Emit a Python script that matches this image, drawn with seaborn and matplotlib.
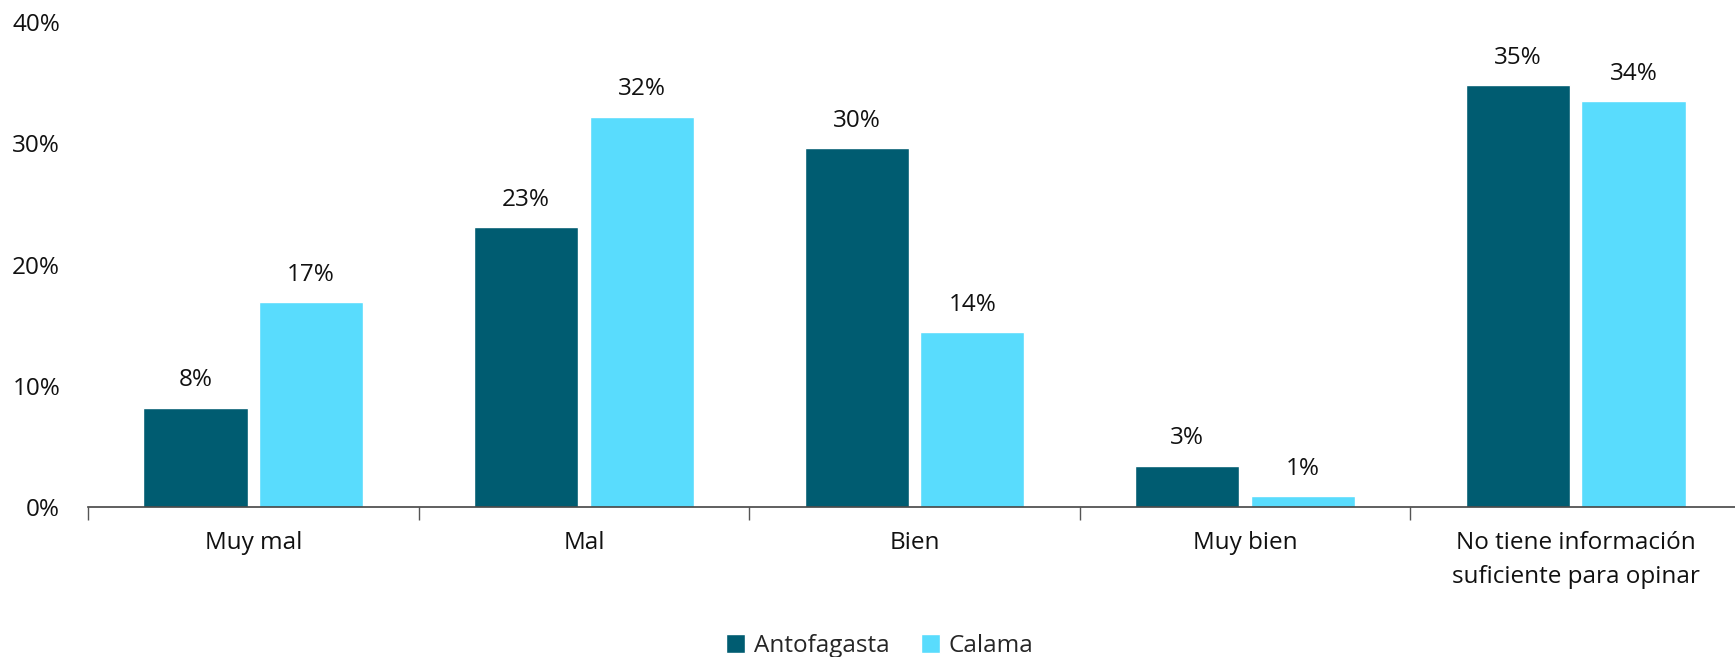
import pandas as pd
import numpy as np
import matplotlib.pyplot as plt
import seaborn as sns
from matplotlib.ticker import FixedLocator, PercentFormatter

categories = ["Muy mal", "Mal", "Bien", "Muy bien",
              "No tiene información\nsuficiente para opinar"]
series = ["Antofagasta", "Calama"]
antofagasta = [8.2, 23.1, 29.6, 3.4, 34.8]
calama = [16.9, 32.2, 14.4, 0.9, 33.5]
colors = ["#005C71", "#59DCFD"]

df = pd.DataFrame({
    "categoria": categories * 2,
    "ciudad": [series[0]] * len(categories) + [series[1]] * len(categories),
    "valor": antofagasta + calama,
})

sns.set_style("white")
plt.rcParams["font.family"] = ["Open Sans", "DejaVu Sans"]
FS = 17.5

fig = plt.figure(figsize=(17.35, 6.57), dpi=100)
ax = fig.add_axes([88 / 1735, 150 / 657, 1653 / 1735, 485 / 657])

sns.barplot(data=df, x="categoria", y="valor", hue="ciudad",
            palette=colors, width=0.7, gap=0.1, saturation=1,
            ax=ax, legend=True)

# etiquetas de valor encima de cada barra
for cont in ax.containers:
    ax.bar_label(cont, labels=[f"{v:.0f}%" for v in cont.datavalues],
                 padding=11, fontsize=FS, color="#111111")

ax.set_ylim(0, 40)
ax.set_xlim(-0.5, len(categories) - 0.5)
ax.set_yticks([0, 10, 20, 30, 40])
ax.yaxis.set_major_formatter(PercentFormatter(decimals=0))
ax.tick_params(axis="y", length=0, pad=20, labelsize=FS, labelcolor="#111111")
ax.tick_params(axis="x", which="major", length=0, pad=17, labelsize=FS,
               labelcolor="#111111")
ax.xaxis.set_minor_locator(FixedLocator(np.arange(-0.5, len(categories), 1)))
ax.tick_params(axis="x", which="minor", length=9, width=1, color="#555555",
               direction="out", bottom=True)
for lbl in ax.get_xticklabels():
    lbl.set_linespacing(1.55)
ax.set_xlabel("")
ax.set_ylabel("")

for side in ["left", "right", "top"]:
    ax.spines[side].set_visible(False)
ax.spines["bottom"].set_color("#444444")
ax.spines["bottom"].set_linewidth(1.2)

handles, labels = ax.get_legend_handles_labels()
ax.legend_.remove()
fig.legend(handles, labels, loc="center", bbox_to_anchor=(0.507, 11 / 657),
           ncol=2, frameon=False, fontsize=FS, handlelength=0.8,
           handleheight=0.8, handletextpad=0.35, columnspacing=1.3)

fig.savefig("out.png", dpi=100)
